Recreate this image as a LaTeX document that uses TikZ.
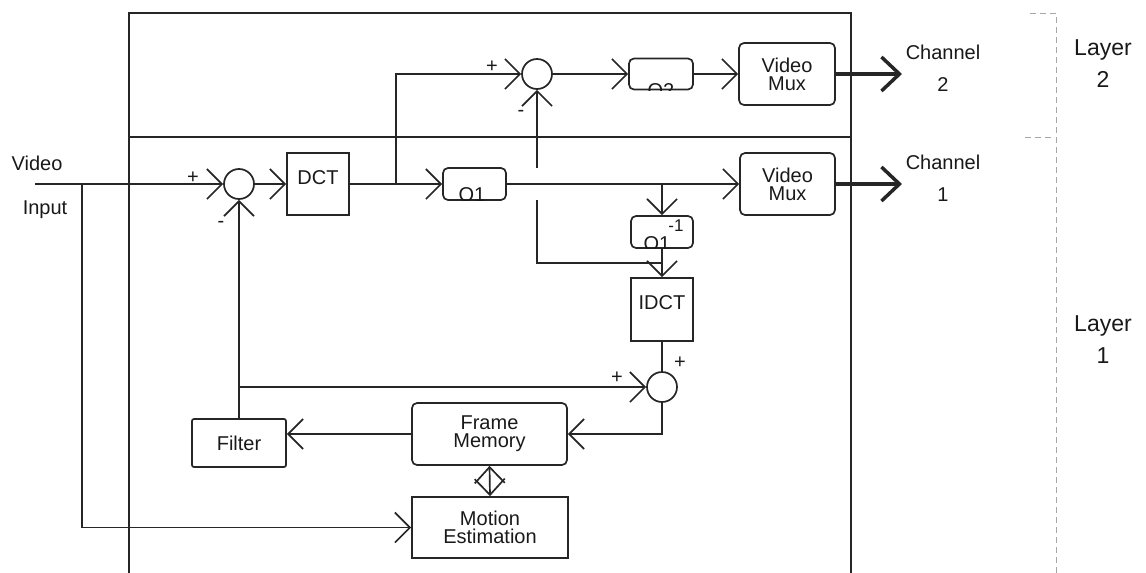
\documentclass[tikz,border=0pt]{standalone}
\usepackage{fontspec}
\setmainfont{Liberation Sans}
\usetikzlibrary{arrows.meta,calc}
\begin{document}
\begin{tikzpicture}[x=1pt,y=-1pt,
  line width=1.7pt,
  every node/.style={font=\fontsize{20}{18}\selectfont, text=black!90},
  blk/.style={draw=black!85, line width=1.7pt, inner sep=0pt, align=center, text height=14pt, text depth=0pt},
  topt/.style={text depth=14pt},
  rbox/.style={rounded corners=5pt},
  sumj/.style={draw=black!85, circle, minimum size=30pt, inner sep=0pt, line width=1.7pt},
  chev/.style={draw=black!85, -{Straight Barb[length=15pt,width=30pt]}},
  wire/.style={draw=black!85},
  bigarrow/.style={draw=black!85, line width=3.5pt, -{Straight Barb[length=18pt,width=34pt]}},
  sign/.style={font=\fontsize{20}{20}\selectfont, inner sep=0pt},
  layerlbl/.style={font=\fontsize{23}{32}\selectfont, align=center},
  chlbl/.style={font=\fontsize{20}{32}\selectfont, align=center}
]
\useasboundingbox (0,0) rectangle (1146,573);

% frames
\draw[wire] (129,575) -- (129,13) -- (851,13) -- (851,575);
\draw[wire] (129,137) -- (851,137);

% layer bracket
\draw[gray!70, line width=1pt, dash pattern=on 6pt off 4pt] (1030,13) -- (1056,13) -- (1056,573);
\draw[gray!70, line width=1pt, dash pattern=on 6pt off 4pt] (1025,137) -- (1052,137);
\node[layerlbl] (l2) at (1103,64) {Layer\\2};
\node[layerlbl] (l1) at (1103,340) {Layer\\1};

% input labels
\node (vid) at (37,163) {Video};
\node (inp) at (45,210) {Input};

% blocks
\node[blk, topt, minimum width=62pt, minimum height=62pt] (dct) at (318,184) {DCT};
\node[blk, rbox, minimum width=64pt, minimum height=31pt] (q2) at (661,74) {};
\node[blk, rbox, minimum width=63pt, minimum height=32pt] (q1) at (474.5,184) {};
\node[blk, rbox, minimum width=62pt, minimum height=32pt] (q1i) at (662,232) {};
\node[blk, rbox, minimum width=96pt, minimum height=62pt, text height=, text depth=] (mux2) at (787,74) {Video\\Mux};
\node[blk, rbox, minimum width=95pt, minimum height=62pt, text height=, text depth=] (mux1) at (787.5,184) {Video\\Mux};
\node[blk, topt, minimum width=62pt, minimum height=63pt] (idct) at (662,309.5) {IDCT};
\node[blk, rounded corners=2pt, minimum width=94pt, minimum height=48pt] (filt) at (239,443) {Filter};
\node[blk, rbox, minimum width=155pt, minimum height=62pt, text height=, text depth=] (fm) at (489.5,434) {Frame\\Memory};
\node[blk, minimum width=156pt, minimum height=61pt, text height=, text depth=] (me) at (490,527.5) {Motion\\Estimation};

% clipped quantiser labels
\begin{scope}
  \clip (q2.south west) rectangle (q2.north east);
  \node[anchor=north, inner sep=0pt] (q2t) at (661,83) {Q2};
\end{scope}
\begin{scope}
  \clip (q1.south west) rectangle (q1.north east);
  \node[anchor=north, inner sep=0pt] (q1t) at (472,187) {Q1};
\end{scope}
\begin{scope}
  \clip (q1i.south west) rectangle (q1i.north east);
  \node[anchor=north, inner sep=0pt] (q1it) at (657,236) {Q1};
\end{scope}
\node[inner sep=0pt, font=\fontsize{17}{17}\selectfont] (q1ie) at (676,226) {-1};

% summing junctions
\node[sumj] (s1) at (239,184) {};
\node[sumj] (s2) at (537,74) {};
\node[sumj] (s3) at (662,387) {};

\node[sign] (s1p) at (193,178) {+};
\node[sign] (s1m) at (221,224) {-};
\node[sign] (s2p) at (492,67) {+};
\node[sign] (s2m) at (521,113) {-};
\node[sign] (s3p) at (680,363) {+};
\node[sign] (s3l) at (617,378) {+};

% coordinates
\coordinate (vin) at (35,184);
\coordinate (b0) at (82,184);
\coordinate (b1) at (396,184);
\coordinate (b2) at (662,184);
\coordinate (g1) at (537,168);
\coordinate (g2) at (537,200);
\coordinate (c1) at (537,263);
\coordinate (j2) at (662,263);
\coordinate (j3) at (239,387);
\coordinate (t2) at (902,74);
\coordinate (t1) at (902,184);

% connectors
\draw[chev] (vin) -- (s1.west);
\draw[chev] (s1.east) -- (dct.west);
\draw[chev] (dct.east) -- (q1.west);
\draw[chev] (b1) |- (s2.west);
\draw[chev] (s2.east) -- (q2.west);
\draw[chev] (q2.east) -- (mux2.west);
\draw[bigarrow] (mux2.east) -- (t2);
\draw[chev] (q1.east) -- (mux1.west);
\draw[bigarrow] (mux1.east) -- (t1);
\draw[chev] (b2) -- (q1i.north);
\draw[chev] (q1i.south) -- (idct.north);
\draw[chev] (g1) -- (s2.south);
\draw[wire] (g2) -- (c1) -- (j2);
\draw[wire] (idct.south) -- (s3.north);
\draw[chev] (j3) -- (s3.west);
\draw[chev] (filt.north) -- (s1.south);
\draw[chev] (s3.south) |- (fm.east);
\draw[chev] (fm.west) -- (fm.west -| filt.east);
\draw[draw=black!85, {Straight Barb[length=16pt,width=30pt]}-{Straight Barb[length=16pt,width=30pt]}] (fm.south) -- (me.north);
\draw[chev] (b0) |- (me.west);

% channel labels
\node[chlbl] (ch2) at (943,68) {Channel\\2};
\node[chlbl] (ch1) at (943,178) {Channel\\1};
\end{tikzpicture}
\end{document}
